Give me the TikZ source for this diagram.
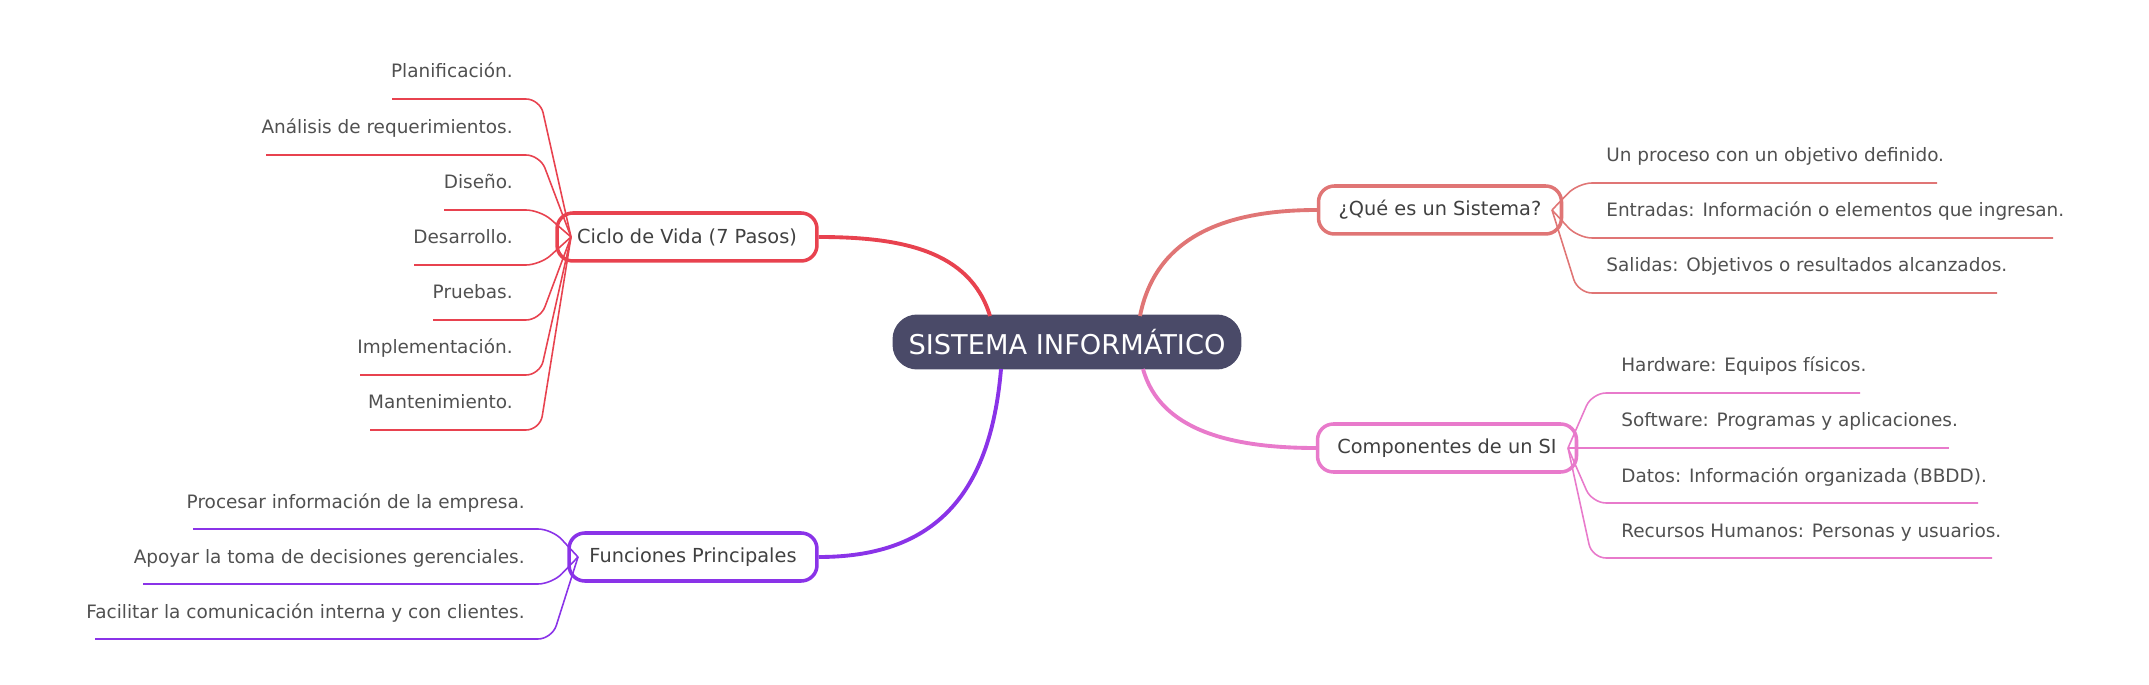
\documentclass[tikz,border=0pt]{standalone}
\usepackage{fontspec}
\setmainfont{DejaVu Sans}
\usetikzlibrary{positioning}
\definecolor{hub}{HTML}{4A4A68}
\definecolor{cred}{HTML}{E8424F}
\definecolor{cpur}{HTML}{8A33E8}
\definecolor{csal}{HTML}{E07575}
\definecolor{cpnk}{HTML}{E87ACB}
\definecolor{txt}{HTML}{505050}
\tikzset{
  topic/.style={draw, line width=2pt, rounded corners=9pt, fill=white,
    minimum height=0.96cm, font=\fontsize{11}{13}\selectfont, text=txt!80!black},
  leaf/.style={font=\fontsize{10.5}{12}\selectfont, text=txt, inner sep=0pt},
  twig/.style={line width=0.9pt, rounded corners=8pt},
  limb/.style={line width=2.2pt}
}
\begin{document}
\begin{tikzpicture}[x=0.02cm, y=-0.02cm]
  \useasboundingbox (0,0) rectangle (2149,685);
  % centre
  \node (SI) [fill=hub, rounded corners=14pt, minimum width=6.98cm, minimum height=1.1cm,
    text=white, font=\fontsize{15.5}{18}\selectfont] at (1067,342) {SISTEMA INFORMÁTICO};
  % topics
  \node (ciclo) [topic, draw=cred, minimum width=5.2cm] at (687,237) {Ciclo de Vida (7 Pasos)};
  \node (func) [topic, draw=cpur, minimum width=4.96cm] at (693,557) {Funciones Principales};
  \node (que) [topic, draw=csal, minimum width=4.86cm] at (1440,210) {¿Qué es un Sistema?};
  \node (comp) [topic, draw=cpnk, minimum width=5.18cm] at (1447,448) {Componentes de un SI};
  % limbs
  \draw[limb, cred] (990,316) .. controls (970,250) and (900,237) .. (ciclo.east);
  \draw[limb, cpur] (1001,369) .. controls (990,500) and (930,557) .. (func.east);
  \draw[limb, csal] (1140,316) .. controls (1155,240) and (1220,210) .. (que.west);
  \draw[limb, cpnk] (1143,369) .. controls (1160,430) and (1230,448) .. (comp.west);
  % Ciclo de Vida
  \foreach \t/\y/\xs [count=\i] in {Planificación./99/392, Análisis de requerimientos./155/266,
      Diseño./210/444, Desarrollo./265/414, Pruebas./320/433,
      Implementación./375/360, Mantenimiento./430/370} {
    \node (c\i) [leaf, anchor=base east] at (513,\y-21) {\t};
    \draw[twig, cred] (\xs,\y) -- (540,\y) -- (571,237);
  }
  % Funciones
  \foreach \t/\y/\xs [count=\i] in {Procesar información de la empresa./529/193,
      Apoyar la toma de decisiones gerenciales./584/143,
      Facilitar la comunicación interna y con clientes./639/95} {
    \node (f\i) [leaf, anchor=base east] at (525,\y-21) {\t};
    \draw[twig, cpur] (\xs,\y) -- (552,\y) -- (578,557);
  }
  % Que es
  \foreach \t/\y/\xe [count=\i] in {Un proceso con un objetivo definido./183/1937,
      Entradas: Información o elementos que ingresan./238/2053,
      Salidas: Objetivos o resultados alcanzados./293/1997} {
    \node (q\i) [leaf, anchor=base west] at (1606,\y-21) {\t};
    \draw[twig, csal] (\xe,\y) -- (1578,\y) -- (1552,210);
  }
  % Componentes
  \foreach \t/\y/\xe [count=\i] in {Hardware: Equipos físicos./393/1860,
      Software: Programas y aplicaciones./448/1949,
      Datos: Información organizada (BBDD)./503/1978,
      Recursos Humanos: Personas y usuarios./558/1992} {
    \node (k\i) [leaf, anchor=base west] at (1621,\y-21) {\t};
    \draw[twig, cpnk] (\xe,\y) -- (1592,\y) -- (1568,448);
  }
\end{tikzpicture}
\end{document}
